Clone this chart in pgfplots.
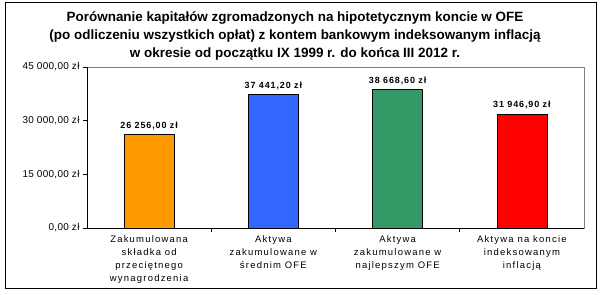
\documentclass[border=0pt]{standalone}
\usepackage{fontspec}
\setmainfont{Liberation Sans}
\newfontfamily\tickfont[LetterSpace=3]{Liberation Sans}
\newfontfamily\catfont[LetterSpace=13]{Liberation Sans}
\newfontfamily\valfont[LetterSpace=10]{Liberation Sans}
\usepackage{pgfplots}
\pgfplotsset{compat=1.18}
\definecolor{barorange}{HTML}{FF9900}
\definecolor{barblue}{HTML}{3366FF}
\definecolor{bargreen}{HTML}{339966}
\definecolor{barred}{HTML}{FF0000}
\definecolor{framegray}{HTML}{808080}
\begin{document}
\begin{tikzpicture}
\useasboundingbox (0,0) rectangle (604bp,295bp);
\fill[white] (0,0) rectangle (604bp,295bp);
\draw[black, line width=1bp] (5bp,6bp) rectangle (596bp,292bp);
\node[align=center, font=\fontsize{13.5}{18.5}\selectfont\bfseries, inner sep=0pt] at (295bp,259bp)
 {Porównanie kapitałów zgromadzonych na hipotetycznym koncie w OFE\\(po odliczeniu wszystkich opłat) z kontem bankowym indeksowanym inflacją\\w okresie od początku IX 1999 r. do końca III 2012 r.};
\begin{axis}[
 at={(87bp,67bp)}, anchor=south west,
 width=497bp, height=161bp, scale only axis,
 xmin=-0.5, xmax=3.5, ymin=0, ymax=45000,
 scaled y ticks=false,
 axis line style={framegray},
 tick style={black, line width=0.6pt},
 tick align=outside,
 major tick length=4bp,
 xtick pos=bottom, ytick pos=left,
 ytick={0,15000,30000,45000},
 yticklabels={{0,00 zł},{15 000,00 zł},{30 000,00 zł},{45 000,00 zł}},
 yticklabel style={font=\tickfont\fontsize{10}{12}\selectfont},
 xtick={0.5,1.5,2.5},
 xticklabels={},
 extra x ticks={0,1,2,3},
 extra x tick labels={{Zakumulowana\\składka od\\przeciętnego\\wynagrodzenia},{Aktywa\\zakumulowane w\\średnim OFE},{Aktywa\\zakumulowane w\\najlepszym OFE},{Aktywa na koncie\\indeksowanym\\inflacją}},
 extra x tick style={major tick length=0pt, xticklabel style={align=center, font=\catfont\fontsize{9.5}{13}\selectfont, yshift=-4bp}},
 nodes near coords style={font=\valfont\bfseries\fontsize{9}{11}\selectfont, anchor=south, yshift=1bp},
 after end axis/.code={\draw[black, line width=0.8pt] (rel axis cs:0,1) -- (rel axis cs:0,0) -- (rel axis cs:1,0);},
]
\addplot[ybar, bar width=50bp, bar shift=0pt, fill=barorange, draw=black, nodes near coords, point meta=explicit symbolic] coordinates {(0,26256) [26 256,00 zł]};
\addplot[ybar, bar width=50bp, bar shift=0pt, fill=barblue, draw=black, nodes near coords, point meta=explicit symbolic] coordinates {(1,37441.2) [37 441,20 zł]};
\addplot[ybar, bar width=50bp, bar shift=0pt, fill=bargreen, draw=black, nodes near coords, point meta=explicit symbolic] coordinates {(2,38668.6) [38 668,60 zł]};
\addplot[ybar, bar width=50bp, bar shift=0pt, fill=barred, draw=black, nodes near coords, point meta=explicit symbolic] coordinates {(3,31946.9) [31 946,90 zł]};
\end{axis}
\end{tikzpicture}
\end{document}
